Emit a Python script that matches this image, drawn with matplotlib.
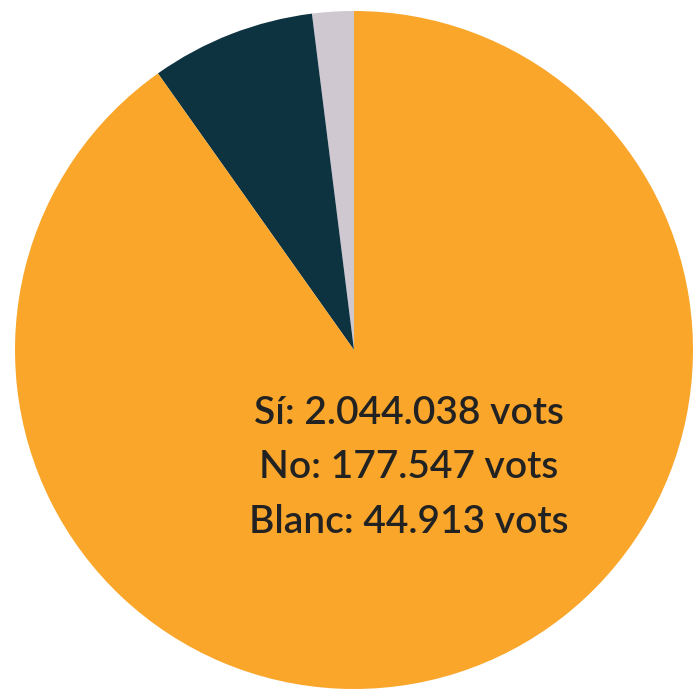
import matplotlib
matplotlib.use("Agg")
import matplotlib.pyplot as plt

labels = ["Blanc", "No", "Sí"]
votes = [44913, 177547, 2044038]
colors = ["#D0C8D1", "#0D3340", "#F9A62B"]
text_lines = ["Sí: 2.044.038 vots", "No: 177.547 vots", "Blanc: 44.913 vots"]

fig = plt.figure(figsize=(6.99, 6.89), dpi=100)
ax = fig.add_axes([0, 0, 1, 1])

ax.pie(votes, colors=colors, startangle=90, counterclock=True,
       radius=1, center=(0, 0), wedgeprops=dict(linewidth=0))

r_px = 339
cx, cy = 354, 350
ax.set_xlim(-cx / r_px, (699 - cx) / r_px)
ax.set_ylim(-(689 - cy) / r_px, cy / r_px)
ax.set_aspect("auto")
ax.axis("off")

for i, line in enumerate(text_lines):
    ypx = 413 + i * 54.5
    ax.text((409 - cx) / r_px, (cy - ypx) / r_px, line, ha="center", va="center",
            fontsize=28, color="#222222", family="Lato", fontweight="semibold")

fig.savefig("out.png", dpi=100)
